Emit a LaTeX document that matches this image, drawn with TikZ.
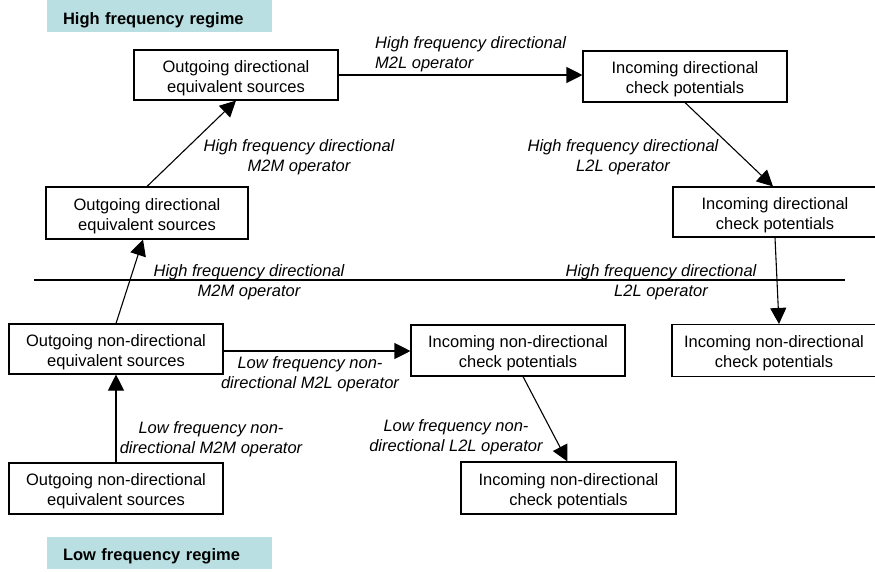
\documentclass[tikz,border=0pt]{standalone}
\usepackage{fontspec}
\setmainfont{Liberation Sans}
\usetikzlibrary{arrows.meta,calc}
\definecolor{regimebg}{HTML}{B9DFE2}
\newcommand{\bxtext}[2]{\raisebox{-3pt}[\height][\depth]{\begin{tabular}{@{}c@{}}#1\\#2\end{tabular}}}
\begin{document}
\begin{tikzpicture}[x=1pt,y=-1pt,
  box/.style={draw,line width=1.1pt,align=center,inner sep=0pt,font=\fontsize{16.5}{20}\selectfont},
  lbl/.style={align=center,inner sep=0pt,font=\fontsize{16.5}{20}\selectfont\itshape},
  regime/.style={fill=regimebg,minimum width=225pt,minimum height=32pt,inner sep=0pt,text width=193pt,align=left,font=\fontsize{16.5}{20}\selectfont\bfseries},
  arr/.style={line width=1.1pt,-{Triangle[length=16pt,width=16pt]}}]
\useasboundingbox (0,0) rectangle (875,571);
\clip (0,0) rectangle (875,571);
% regime labels
\fill[regimebg] (47,0) rectangle (272,32);
\node[regime,fill=none] (hi) at (159.5,20) {High frequency regime};
\node[regime] (lo) at (159.5,553) {\raisebox{-3pt}[\height][\depth]{Low frequency regime}};
% boxes
\node[box,minimum width=204pt,minimum height=50pt] (A) at (236,75) {\bxtext{Outgoing directional}{equivalent sources}};
\node[box,minimum width=204pt,minimum height=51pt] (B) at (685,76.5) {\bxtext{Incoming directional}{check potentials}};
\node[box,minimum width=202pt,minimum height=52pt] (C) at (147,213) {\bxtext{Outgoing directional}{equivalent sources}};
\node[box,minimum width=204pt,minimum height=50pt] (D) at (775,212) {\bxtext{Incoming directional}{check potentials}};
\node[box,minimum width=204pt,minimum height=52pt] (E) at (774,350.5) {\bxtext{Incoming non-directional}{check potentials}};
\node[box,minimum width=214pt,minimum height=50pt] (F) at (116,349) {\bxtext{Outgoing non-directional}{equivalent sources}};
\node[box,minimum width=214pt,minimum height=51pt] (G) at (518,350.5) {\bxtext{Incoming non-directional}{check potentials}};
\node[box,minimum width=214pt,minimum height=51pt] (H) at (116,488.5) {\bxtext{Outgoing non-directional}{equivalent sources}};
\node[box,minimum width=215pt,minimum height=52pt] (I) at (568.5,488) {\bxtext{Incoming non-directional}{check potentials}};
% separator line
\coordinate (sepL) at (34,280);
\coordinate (sepR) at (845,280);
\draw[line width=1.1pt] (sepL) -- (sepR);
% connectors
\draw[arr] (C.north) -- (A.south);
\draw[arr] (A.east) -- (A.east -| B.west);
\draw[arr] (B.south) -- ([xshift=-2pt]D.north);
\draw[arr] (F.north) -- ([xshift=-4pt]C.south);
\draw[arr] (D.south) -- ([xshift=5pt]E.north);
\draw[arr] ([yshift=-2pt]F.east) -- ([yshift=-2pt]F.east -| G.west);
\draw[arr] (H.north) -- (F.south);
\draw[arr] ([xshift=5pt]G.south) -- ([xshift=-1pt]I.north);
% labels
\node[lbl,align=left,anchor=west] (l1) at (375,54) {High frequency directional\\M2L operator};
\node[lbl] (l2) at (299,157) {High frequency directional\\M2M operator};
\node[lbl] (l3) at (623,157) {High frequency directional\\L2L operator};
\node[lbl] (l4) at (249,282) {High frequency directional\\M2M operator};
\node[lbl] (l5) at (661,282) {High frequency directional\\L2L operator};
\node[lbl] (l6) at (310,374) {Low frequency non-\\directional M2L operator};
\node[lbl] (l7) at (211,439) {Low frequency non-\\directional M2M operator};
\node[lbl] (l8) at (456,437) {Low frequency non-\\directional L2L operator};
\end{tikzpicture}
\end{document}
